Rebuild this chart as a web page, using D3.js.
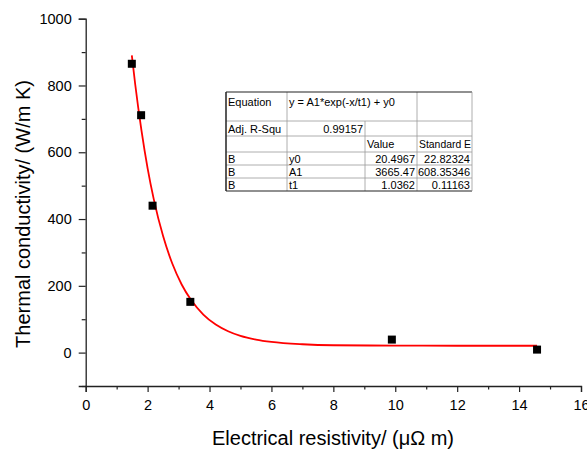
<!DOCTYPE html>
<html><head><meta charset="utf-8">
<script src="https://cdn.jsdelivr.net/npm/d3@7"></script>
<style>body{margin:0;background:#fff}svg{display:block}text{font-family:"Liberation Sans",Arial,sans-serif}</style>
</head><body>
<svg id="c" width="587" height="450"></svg>
<script>
// Measured data points (electrical resistivity, thermal conductivity)
const resistivity = [1.49, 1.79, 2.16, 3.38, 9.89, 14.58];
const conductivity = [865, 711, 440, 152, 39, 9];
// Fitted curve
const fitX = [1.49, 1.6, 1.8, 2.0, 2.2, 2.5, 2.8, 3.1, 3.4, 3.8, 4.2, 4.6, 5.0, 5.5, 6.0, 7.0, 8.0, 10.0, 12.0, 14.58];
const fitY = [890, 803, 666, 552, 459, 349, 266, 204, 158, 114, 84, 64, 50, 39, 32, 25, 22, 21, 20.5, 20.5];
const xTicks = [0, 2, 4, 6, 8, 10, 12, 14, 16];
const xMinor = [1, 3, 5, 7, 9, 11, 13, 15];
const yTicks = [0, 200, 400, 600, 800, 1000];
const yMinor = [-100, 100, 300, 500, 700, 900];
const tableRows = [
  ["Equation", "y = A1*exp(-x/t1) + y0", "", ""],
  ["Adj. R-Squ", "0.99157", "", ""],
  ["", "", "Value", "Standard E"],
  ["B", "y0", "20.4967", "22.82324"],
  ["B", "A1", "3665.47", "608.35346"],
  ["B", "t1", "1.0362", "0.11163"]
];

const svg = d3.select("#c");
const x = d3.scaleLinear().domain([0, 16]).range([85.7, 581]);
const y = d3.scaleLinear().domain([-100, 1000]).range([386, 18.7]);
const axisColor = "#222";

// X axis
const gx = svg.append("g").attr("transform", `translate(0,${y(-100)})`);
gx.call(d3.axisBottom(x).tickValues(xTicks).tickSize(6).tickPadding(8).tickFormat(d3.format("d")));
gx.append("g").call(d3.axisBottom(x).tickValues(xMinor).tickSize(3.5).tickFormat(""));
gx.selectAll(".domain").attr("stroke", axisColor).attr("stroke-width", 1.3);
gx.selectAll("g.tick line").attr("stroke", axisColor).attr("stroke-width", 1.2);
gx.selectAll("text").attr("font-size", 14.5).attr("fill", "#000");
gx.selectAll("g > g .domain").remove();

// Y axis
const gy = svg.append("g").attr("transform", `translate(${x(0)},0)`);
gy.call(d3.axisLeft(y).tickValues(yTicks).tickSize(7).tickPadding(7).tickFormat(d3.format("d")));
gy.append("g").call(d3.axisLeft(y).tickValues(yMinor).tickSize(4).tickFormat(""));
gy.selectAll(".domain").attr("stroke", axisColor).attr("stroke-width", 1.3);
gy.selectAll("g.tick line").attr("stroke", axisColor).attr("stroke-width", 1.2);
gy.selectAll("text").attr("font-size", 14.5).attr("fill", "#000");
gy.selectAll("g > g .domain").remove();

// Axis titles
svg.append("text").attr("x", 333).attr("y", 445).attr("text-anchor", "middle")
  .attr("font-size", 20).text("Electrical resistivity/ (\u03BC\u03A9 m)");
svg.append("text").attr("transform", "translate(30,214) rotate(-90)").attr("text-anchor", "middle")
  .attr("font-size", 20).text("Thermal conductivity/ (W/m K)");

// Fit curve
const fit = fitX.map((v, i) => [v, fitY[i]]);
svg.append("path").datum(fit)
  .attr("d", d3.line().x(d => x(d[0])).y(d => y(d[1])).curve(d3.curveMonotoneX))
  .attr("fill", "none").attr("stroke", "#f00").attr("stroke-width", 1.8);

// Points
const pts = resistivity.map((v, i) => [v, conductivity[i]]);
const s = 8;
svg.selectAll("rect.pt").data(pts).enter().append("rect").attr("class", "pt")
  .attr("x", d => x(d[0]) - s / 2).attr("y", d => y(d[1]) - s / 2)
  .attr("width", s).attr("height", s).attr("fill", "#000");

// Table
const tX = [226, 287, 365, 417, 472];
const tY = [92, 121, 136, 152, 165, 178, 191];
const tg = svg.append("g");
tg.append("rect").attr("x", tX[0]).attr("y", tY[0]).attr("width", tX[4] - tX[0]).attr("height", tY[6] - tY[0]).attr("fill", "#fff");
for (let r = 1; r < 6; r++) {
  tg.append("line").attr("x1", tX[0]).attr("x2", tX[4]).attr("y1", tY[r]).attr("y2", tY[r]).attr("stroke", "#999").attr("stroke-width", 0.8);
}
[1, 3].forEach(c => tg.append("line").attr("x1", tX[c]).attr("x2", tX[c]).attr("y1", tY[0]).attr("y2", tY[6]).attr("stroke", "#999").attr("stroke-width", 0.8));
tg.append("line").attr("x1", tX[2]).attr("x2", tX[2]).attr("y1", tY[1]).attr("y2", tY[6]).attr("stroke", "#999").attr("stroke-width", 0.8);
tg.append("line").attr("x1", tX[0]).attr("x2", tX[4]).attr("y1", tY[0]).attr("y2", tY[0]).attr("stroke", "#222").attr("stroke-width", 1.2);
tg.append("line").attr("x1", tX[0]).attr("x2", tX[4]).attr("y1", tY[6]).attr("y2", tY[6]).attr("stroke", "#222").attr("stroke-width", 1.2);
tg.append("line").attr("x1", tX[0]).attr("x2", tX[0]).attr("y1", tY[0]).attr("y2", tY[6]).attr("stroke", "#222").attr("stroke-width", 1.5);
tg.append("line").attr("x1", tX[4]).attr("x2", tX[4]).attr("y1", tY[0]).attr("y2", tY[6]).attr("stroke", "#999").attr("stroke-width", 0.8);

const rightAligned = (r, c) => (r === 1 && c === 1) || (r >= 3 && c >= 2);
tableRows.forEach((row, r) => {
  row.forEach((txt, c) => {
    if (!txt) return;
    const ra = rightAligned(r, c);
    const top = tY[r];
    const yy = r === 0 ? top + 14 : (top + tY[r + 1]) / 2 + 4;
    const t = tg.append("text").attr("x", ra ? tX[c + 1] - 2 : tX[c] + 2).attr("y", yy)
      .attr("text-anchor", ra ? "end" : "start").attr("font-size", 11).attr("fill", "#000").text(txt);
    const avail = tX[c + 1] - tX[c] - 3;
    if (c > 0 && !(r === 0 && c === 1) && t.node().getComputedTextLength() > avail) {
      t.attr("textLength", avail).attr("lengthAdjust", "spacingAndGlyphs");
    }
  });
});
</script>
</body></html>
